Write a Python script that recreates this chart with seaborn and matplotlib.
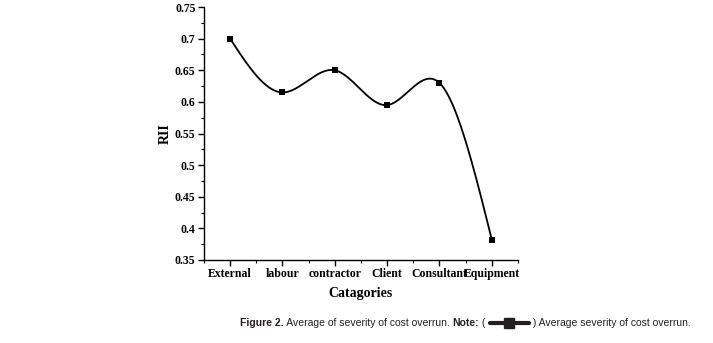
import numpy as np
import pandas as pd
import matplotlib
matplotlib.use("Agg")
import matplotlib.pyplot as plt
import seaborn as sns
from matplotlib.lines import Line2D
from matplotlib.offsetbox import TextArea, DrawingArea, HPacker, AnchoredOffsetbox
from matplotlib.ticker import MultipleLocator, AutoMinorLocator

# Relative importance index per group of cost-overrun factors
categories = ["External", "labour", "contractor", "Client", "Consultant", "Equipment"]
rii = [0.700, 0.615, 0.650, 0.595, 0.630, 0.382]
y_ticks = [0.35, 0.4, 0.45, 0.5, 0.55, 0.6, 0.65, 0.7, 0.75]

df = pd.DataFrame({"category": categories, "RII": rii, "pos": np.arange(len(categories))})

sns.set_theme(style="white")
plt.rcParams["font.family"] = ["Liberation Serif", "DejaVu Serif"]

fig = plt.figure(figsize=(7.13, 3.43), dpi=100)
ax = fig.add_axes([0.286, 0.242, 0.4405, 0.7375])


def natural_spline(x, y, n=400):
    """Natural cubic spline through (x, y), evaluated on a dense grid."""
    x = np.asarray(x, float)
    y = np.asarray(y, float)
    k = len(x)
    h = np.diff(x)
    A = np.zeros((k, k))
    b = np.zeros(k)
    A[0, 0] = A[-1, -1] = 1.0
    for i in range(1, k - 1):
        A[i, i - 1] = h[i - 1]
        A[i, i] = 2 * (h[i - 1] + h[i])
        A[i, i + 1] = h[i]
        b[i] = 3 * ((y[i + 1] - y[i]) / h[i] - (y[i] - y[i - 1]) / h[i - 1])
    c = np.linalg.solve(A, b)
    xs = np.linspace(x[0], x[-1], n)
    idx = np.clip(np.searchsorted(x, xs) - 1, 0, k - 2)
    dx = xs - x[idx]
    bb = (y[idx + 1] - y[idx]) / h[idx] - h[idx] * (2 * c[idx] + c[idx + 1]) / 3
    dd = (c[idx + 1] - c[idx]) / (3 * h[idx])
    ys = y[idx] + bb * dx + c[idx] * dx ** 2 + dd * dx ** 3
    return xs, ys


xs, ys = natural_spline(df["pos"], df["RII"])
sns.lineplot(x=xs, y=ys, ax=ax, color="black", linewidth=1.3, sort=False)
sns.scatterplot(data=df, x="pos", y="RII", ax=ax, marker="s", s=22,
                color="black", edgecolor="black", linewidth=0, zorder=3)

ax.set_xlim(-0.5, len(categories) - 0.5)
ax.set_ylim(0.35, 0.75)
ax.set_xticks(df["pos"])
ax.set_xticklabels(categories)
ax.set_yticks(y_ticks)
ax.set_yticklabels([f"{v:g}" for v in y_ticks])
ax.xaxis.set_minor_locator(MultipleLocator(0.5))
ax.yaxis.set_minor_locator(AutoMinorLocator(2))

for side in ("top", "right"):
    ax.spines[side].set_visible(False)
for side in ("left", "bottom"):
    ax.spines[side].set_color("black")
    ax.spines[side].set_linewidth(1.0)

ax.tick_params(which="major", direction="out", length=4, width=1, color="black",
               labelsize=8.5, labelcolor="black", pad=2, bottom=True, left=True)
ax.tick_params(which="minor", direction="out", length=2.5, width=0.8, color="black",
               bottom=True, left=True)
for lab in ax.get_xticklabels() + ax.get_yticklabels():
    lab.set_fontweight("bold")

ax.set_xlabel("Catagories", fontsize=10, fontweight="bold", color="black", labelpad=5)
ax.set_ylabel("RII", fontsize=10, fontweight="bold", color="black", labelpad=2)
ax.grid(False)

# Figure caption with inline legend symbol
cap = dict(family=["Liberation Sans", "DejaVu Sans"], size=7.5, color="#231f20")
capb = dict(cap, weight="bold")
sym = DrawingArea(30, 10, 0, 0)
sym.add_artist(Line2D([1, 29], [5, 5], color="#231f20", linewidth=3.0))
sym.add_artist(Line2D([15], [5], color="#231f20", marker="s", markersize=7,
                      linestyle="none"))
parts = [
    TextArea("Figure 2.", textprops=capb),
    TextArea(" Average of severity of cost overrun. ", textprops=cap),
    TextArea("Note:", textprops=capb),
    TextArea(" ( ", textprops=cap),
    sym,
    TextArea(" ) Average severity of cost overrun.", textprops=cap),
]
row = HPacker(children=parts, sep=0, pad=0, align="center")
box = AnchoredOffsetbox(loc="center", child=row, frameon=False,
                        bbox_to_anchor=(0.653, 0.058), bbox_transform=fig.transFigure,
                        borderpad=0, pad=0)
fig.add_artist(box)

fig.savefig("out.png", dpi=100)
